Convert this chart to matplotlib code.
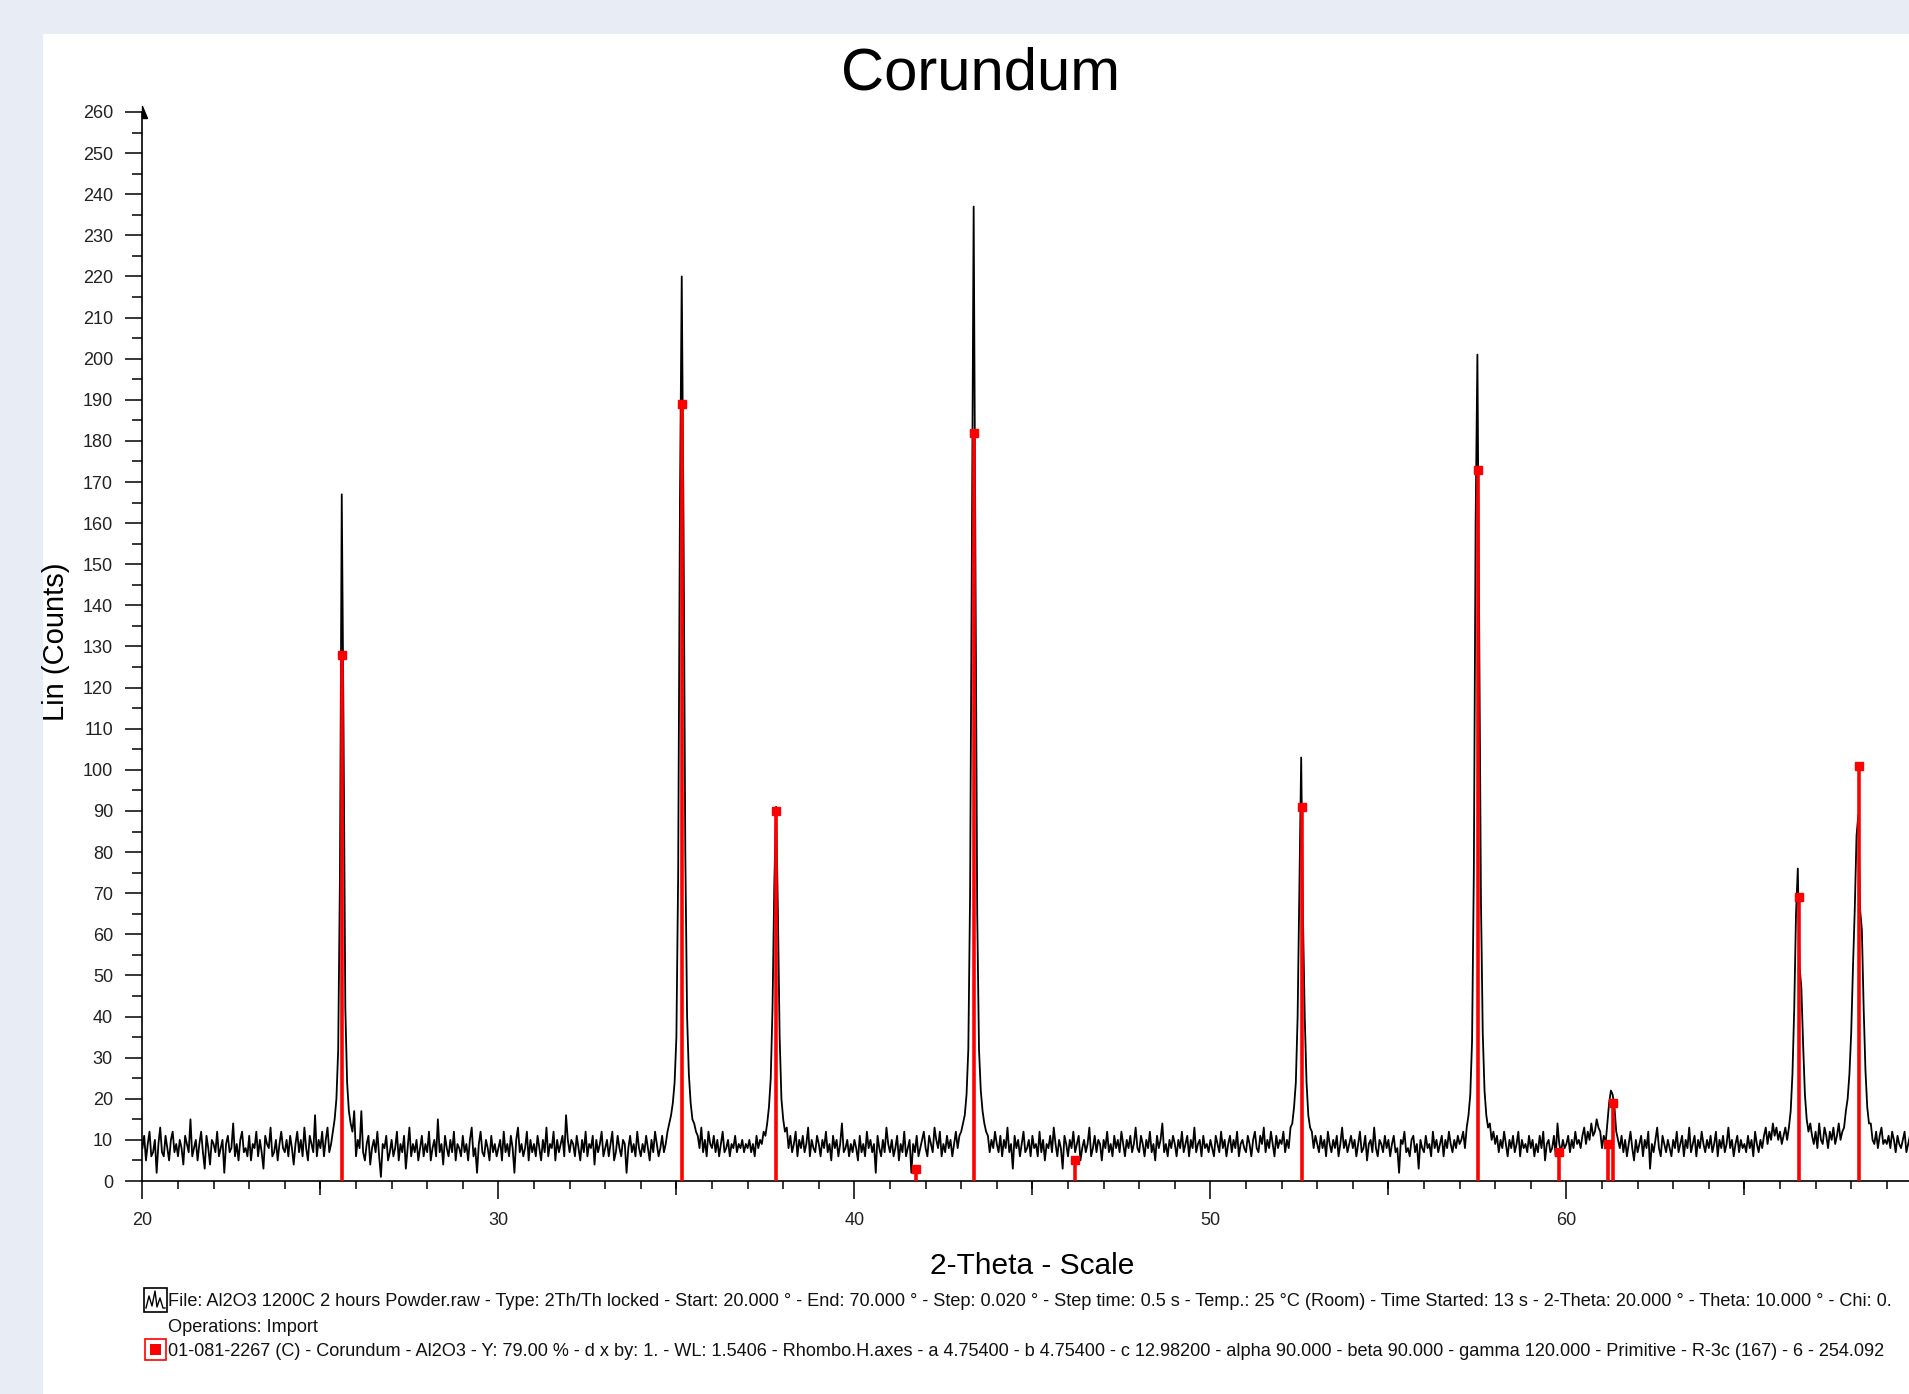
import numpy as np
import matplotlib
matplotlib.use("Agg")
import matplotlib.pyplot as plt
from matplotlib.patches import Rectangle
from matplotlib.lines import Line2D
from matplotlib.ticker import MultipleLocator
from matplotlib.path import Path

plt.rcParams['font.family'] = ['Liberation Sans', 'DejaVu Sans']

# ---------------- data ----------------
step = 0.05  # 2-theta step used for the read-off values
# counts per degree row: values at d.00, d.05, ..., d.95
rows = {
    20: [8, 11, 5, 9, 12, 6, 7, 10, 2, 9, 13, 7, 6, 11, 8, 5, 10, 12, 7, 9],
    21: [6, 10, 8, 4, 11, 9, 7, 15, 6, 8, 10, 5, 9, 12, 7, 3, 11, 8, 4, 10],
    22: [9, 7, 12, 6, 8, 10, 2, 9, 11, 7, 8, 14, 6, 9, 5, 10, 12, 7, 8, 6],
    23: [11, 5, 9, 8, 12, 6, 10, 7, 3, 11, 9, 8, 13, 6, 7, 10, 5, 9, 12, 8],
    24: [7, 10, 6, 11, 8, 4, 9, 12, 7, 10, 6, 13, 8, 5, 11, 9, 7, 16, 6, 10],
    25: [8, 12, 6, 10, 13, 7, 9, 12, 15, 20, 32, 75, 167, 110, 42, 24, 17, 14, 12, 17],
    26: [6, 10, 8, 17, 7, 5, 9, 11, 4, 8, 10, 7, 12, 6, 1, 9, 8, 11, 5, 7],
    27: [10, 6, 8, 12, 5, 9, 7, 11, 3, 8, 13, 6, 9, 7, 10, 5, 8, 11, 6, 9],
    28: [7, 12, 5, 8, 10, 6, 15, 7, 9, 4, 11, 8, 6, 10, 7, 12, 5, 9, 8, 6],
    29: [11, 7, 9, 5, 10, 13, 6, 8, 2, 9, 12, 7, 6, 10, 8, 5, 11, 7, 9, 6],
    30: [8, 10, 5, 12, 7, 9, 6, 11, 8, 2, 10, 13, 7, 9, 6, 8, 12, 5, 10, 7],
    31: [9, 6, 11, 8, 5, 10, 7, 13, 6, 9, 8, 12, 5, 10, 7, 9, 11, 6, 16, 10],
    32: [7, 10, 9, 6, 11, 8, 5, 10, 7, 12, 6, 9, 8, 11, 4, 10, 7, 9, 12, 6],
    33: [8, 10, 6, 9, 12, 5, 7, 11, 8, 6, 10, 9, 2, 8, 11, 7, 9, 6, 12, 8],
    34: [6, 9, 7, 11, 8, 5, 10, 7, 12, 9, 6, 8, 11, 7, 9, 12, 14, 16, 19, 24],
    35: [35, 75, 165, 220, 160, 80, 40, 26, 19, 15, 14, 12, 11, 8, 13, 7, 10, 6, 12, 9],
    36: [8, 11, 7, 10, 6, 9, 12, 7, 8, 10, 6, 9, 8, 11, 7, 9, 8, 10, 7, 9],
    37: [8, 10, 7, 9, 6, 11, 8, 10, 9, 12, 11, 14, 18, 25, 42, 72, 91, 66, 35, 20],
    38: [15, 12, 13, 8, 11, 7, 9, 12, 6, 10, 8, 11, 7, 9, 13, 6, 10, 8, 7, 11],
    39: [9, 6, 10, 8, 12, 7, 9, 5, 11, 8, 10, 6, 9, 14, 7, 8, 10, 6, 9, 7],
    40: [10, 8, 5, 11, 7, 9, 6, 12, 8, 10, 7, 9, 2, 11, 8, 6, 10, 7, 13, 9],
    41: [7, 10, 6, 8, 11, 5, 9, 7, 12, 6, 8, 10, 2, 9, 7, 11, 6, 8, 10, 12],
    42: [8, 6, 11, 9, 7, 13, 10, 8, 12, 6, 9, 7, 11, 8, 10, 6, 9, 12, 8, 11],
    43: [12, 14, 16, 21, 32, 70, 155, 237, 150, 65, 32, 22, 17, 14, 12, 11, 7, 10, 8, 12],
    44: [9, 7, 11, 6, 10, 8, 13, 7, 9, 3, 11, 8, 10, 6, 9, 12, 7, 8, 10, 6],
    45: [11, 8, 9, 6, 12, 7, 10, 5, 9, 8, 11, 7, 13, 9, 6, 10, 8, 3, 11, 9],
    46: [6, 10, 8, 12, 7, 9, 11, 5, 8, 10, 7, 9, 13, 6, 8, 11, 7, 10, 9, 5],
    47: [10, 8, 12, 7, 9, 6, 11, 8, 10, 7, 12, 9, 6, 10, 8, 11, 7, 9, 13, 8],
    48: [7, 11, 9, 6, 10, 8, 12, 7, 9, 5, 11, 8, 10, 14, 7, 9, 6, 10, 8, 11],
    49: [9, 6, 10, 8, 12, 7, 9, 11, 6, 10, 8, 13, 7, 9, 10, 6, 11, 8, 9, 7],
    50: [10, 8, 6, 11, 9, 7, 12, 8, 10, 6, 9, 11, 7, 10, 8, 12, 6, 9, 10, 8],
    51: [7, 11, 9, 6, 10, 12, 8, 7, 11, 9, 13, 7, 10, 8, 12, 9, 6, 11, 8, 10],
    52: [9, 12, 7, 10, 8, 13, 14, 18, 24, 40, 72, 103, 64, 40, 24, 16, 13, 12, 8, 11],
    53: [9, 7, 11, 8, 10, 6, 12, 9, 7, 10, 8, 11, 6, 9, 13, 8, 10, 7, 9, 11],
    54: [8, 10, 6, 9, 12, 7, 8, 11, 5, 9, 10, 7, 13, 8, 6, 10, 9, 7, 11, 8],
    55: [10, 6, 9, 11, 7, 8, 2, 10, 9, 12, 7, 8, 6, 10, 11, 7, 9, 3, 10, 8],
    56: [7, 11, 8, 9, 6, 12, 8, 10, 7, 9, 11, 6, 10, 8, 12, 9, 7, 10, 8, 11],
    57: [9, 10, 12, 8, 13, 16, 21, 34, 75, 160, 201, 135, 68, 36, 22, 16, 13, 14, 10, 12],
    58: [9, 11, 7, 10, 8, 12, 9, 6, 10, 8, 11, 7, 9, 12, 6, 10, 8, 9, 7, 11],
    59: [8, 10, 6, 9, 7, 11, 8, 12, 5, 9, 10, 7, 8, 11, 6, 14, 9, 7, 10, 8],
    60: [9, 11, 7, 10, 8, 12, 9, 10, 8, 11, 13, 9, 12, 10, 14, 11, 12, 15, 13, 12],
    61: [8, 11, 9, 14, 19, 22, 21, 18, 12, 10, 8, 11, 7, 10, 6, 9, 12, 8, 5, 10],
    62: [7, 9, 11, 6, 10, 8, 12, 3, 9, 7, 10, 13, 8, 6, 11, 9, 7, 10, 8, 6],
    63: [10, 8, 12, 7, 9, 11, 6, 10, 8, 13, 7, 9, 11, 6, 10, 8, 12, 9, 7, 10],
    64: [8, 11, 7, 9, 12, 6, 10, 8, 11, 7, 9, 13, 8, 10, 6, 9, 11, 7, 10, 8],
    65: [9, 7, 11, 8, 10, 6, 12, 9, 7, 10, 8, 11, 13, 9, 12, 10, 14, 11, 13, 10],
    66: [12, 9, 11, 13, 10, 13, 17, 26, 42, 65, 76, 52, 47, 33, 21, 15, 12, 14, 11, 9],
    67: [12, 8, 14, 10, 9, 13, 11, 8, 12, 10, 13, 9, 11, 14, 10, 12, 13, 17, 20, 26],
    68: [36, 52, 66, 84, 89, 66, 61, 42, 27, 18, 14, 14, 10, 9, 12, 8, 11, 13, 9, 10],
    69: [9, 11, 8, 12, 10, 7, 11, 9, 8, 10, 12, 7, 9, 11, 8, 10, 6, 9, 11, 8],
    70: [9],
}

# reference pattern 01-081-2267 (Corundum) sticks
stick_pos = [25.62, 35.17, 37.80, 41.72, 43.35, 46.20, 52.57, 57.52,
             59.78, 61.17, 61.32, 66.54, 68.23]
stick_int = [128, 189, 90, 3, 182, 5, 91, 173, 7, 9, 19, 69, 101]

x_ticks = [20, 30, 40, 50, 60]
x_mid_ticks = [25, 35, 45, 55, 65]
y_ticks = list(range(0, 261, 10))

title = "Corundum"
xlabel = "2-Theta - Scale"
ylabel = "Lin (Counts)"
legend1 = ("File: Al2O3 1200C 2 hours Powder.raw - Type: 2Th/Th locked - Start: 20.000 ° - "
           "End: 70.000 ° - Step: 0.020 ° - Step time: 0.5 s - Temp.: 25 °C (Room) - "
           "Time Started: 13 s - 2-Theta: 20.000 ° - Theta: 10.000 ° - Chi: 0.")
legend2 = "Operations: Import"
legend3 = ("01-081-2267 (C) - Corundum - Al2O3 - Y: 79.00 % - d x by: 1. - WL: 1.5406 - "
           "Rhombo.H.axes - a 4.75400 - b 4.75400 - c 12.98200 - alpha 90.000 - beta 90.000 - "
           "gamma 120.000 - Primitive - R-3c (167) - 6 - 254.092")

two_theta = np.concatenate([d + step * np.arange(len(v)) for d, v in rows.items()])
counts = np.concatenate([np.array(v, dtype=float) for v in rows.values()])

# ---------------- figure ----------------
W, H = 1909, 1394
fig = plt.figure(figsize=(W / 100, H / 100), dpi=100, facecolor='#E8ECF4')
fig.patches.append(Rectangle((43 / W, 0), 1 - 43 / W, 1 - 34 / H, transform=fig.transFigure,
                             facecolor='white', edgecolor='none', zorder=-5))

x0_px, x70_px = 142.4, 1922.4
y0_px, y260_px = 1181, 112
ax = fig.add_axes([x0_px / W, (H - y0_px) / H, (x70_px - x0_px) / W, (y0_px - y260_px) / H])
ax.set_facecolor('white')
ax.set_zorder(1)

ax.plot(two_theta, counts, color='black', lw=1.3, zorder=2)
ax.vlines(stick_pos, 0, stick_int, color='#FF0000', lw=2.6, zorder=3)
ax.plot(stick_pos, stick_int, 's', color='#FF0000', ms=6, zorder=4)

ax.set_xlim(20, 70)
ax.set_ylim(0, 260)

for s in ('top', 'right'):
    ax.spines[s].set_visible(False)
for s in ('left', 'bottom'):
    ax.spines[s].set_linewidth(1.2)
    ax.spines[s].set_color('black')

tick_color = '#222222'
ax.set_xticks(x_ticks)
ax.set_xticklabels([str(t) for t in x_ticks])
ax.xaxis.set_minor_locator(MultipleLocator(1))
ax.set_yticks(y_ticks)
ax.set_yticklabels([str(t) for t in y_ticks])
ax.yaxis.set_minor_locator(MultipleLocator(5))
ax.tick_params(axis='x', which='major', direction='out', length=13, width=1.1, pad=9,
               labelsize=13, labelcolor=tick_color)
ax.tick_params(axis='x', which='minor', direction='out', length=5.8, width=1.1)
ax.tick_params(axis='y', which='major', direction='out', length=12.2, width=1.1, pad=9,
               labelsize=13, labelcolor=tick_color)
ax.tick_params(axis='y', which='minor', direction='out', length=7.5, width=1.1)

sec = ax.secondary_xaxis('bottom')
sec.set_xticks(x_mid_ticks)
sec.set_xticklabels([''] * len(x_mid_ticks))
sec.tick_params(axis='x', which='major', direction='out', length=10, width=1.1)
sec.xaxis.set_minor_locator(plt.NullLocator())
sec.spines['bottom'].set_visible(False)

# arrow head at the top of the y axis
arrow = Path([(0, 1), (0, -1), (0.9, -1), (0, 1)], [Path.MOVETO, Path.LINETO, Path.LINETO, Path.CLOSEPOLY])
ax.plot([0], [1], marker=arrow, ms=8, color='black', transform=ax.transAxes, clip_on=False, zorder=5)

# titles / labels
fig.text(981 / W, 1 - 89 / H, title, ha='center', va='baseline', fontsize=43, color='black')
fig.text(1032 / W, 1 - 1274 / H, xlabel, ha='center', va='baseline', fontsize=21.5, color='black')
fig.text(56 / W, 1 - 642 / H, ylabel, ha='center', va='center', rotation=90, fontsize=21, color='black')

# legend lines
lx = 168 / W
t1 = fig.text(lx, 1 - 1306.5 / H, legend1, ha='left', va='baseline', fontsize=12.5, color='#111111')
t2 = fig.text(lx, 1 - 1331.5 / H, legend2, ha='left', va='baseline', fontsize=12.5, color='#111111')
t3 = fig.text(lx, 1 - 1356.5 / H, legend3, ha='left', va='baseline', fontsize=12.5, color='#111111')

fig.canvas.draw()
r = fig.canvas.get_renderer()
w3 = t3.get_window_extent(r).width
fs = 12.5 * 1725 / w3
for t in (t1, t2, t3):
    t.set_fontsize(fs)

# legend icons
fig.patches.append(Rectangle((144 / W, 1 - 1312 / H), 23 / W, 24 / H, transform=fig.transFigure,
                             facecolor='white', edgecolor='black', lw=1.2, zorder=3))
zx = [146, 149, 152, 155, 157, 160, 163, 165]
zy = [1308, 1296, 1306, 1291, 1307, 1298, 1308, 1308]
fig.lines.append(Line2D([v / W for v in zx], [1 - v / H for v in zy], transform=fig.transFigure,
                        color='black', lw=1.0, zorder=4))
fig.patches.append(Rectangle((145 / W, 1 - 1360 / H), 21 / W, 21 / H, transform=fig.transFigure,
                             facecolor='white', edgecolor='#FF0000', lw=1.2, zorder=3))
fig.patches.append(Rectangle((150 / W, 1 - 1355 / H), 11 / W, 11 / H, transform=fig.transFigure,
                             facecolor='#FF0000', edgecolor='none', zorder=4))

fig.savefig('out.png', dpi=100, facecolor=fig.get_facecolor())
